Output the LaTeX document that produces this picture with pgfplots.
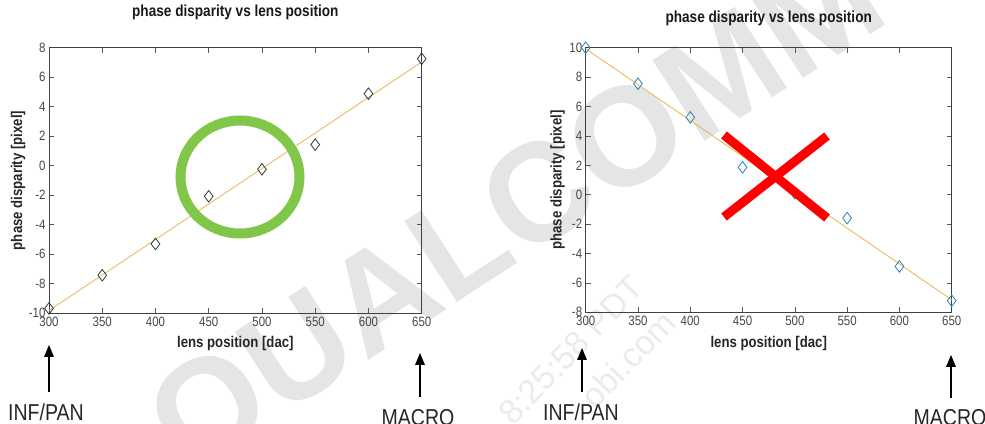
\documentclass[border=0pt]{standalone}
\usepackage{fontspec}
\setmainfont{Liberation Sans}[FakeStretch=0.85]
\newfontfamily\wmfont{Liberation Sans}
\usepackage{pgfplots}
\pgfplotsset{compat=1.18}
\definecolor{fitline}{RGB}{232,182,70}
\definecolor{mkdark}{RGB}{45,60,62}
\definecolor{mkblue}{RGB}{40,130,195}
\definecolor{ringgreen}{RGB}{128,198,72}
\pgfplotsset{
  mstyle/.style={
    scale only axis,
    xmin=300, xmax=650,
    xtick={300,350,...,650},
    tick align=inside,
    major tick length=5pt,
    axis line style={black!75, line width=0.8pt},
    every tick/.style={black!65, line width=0.6pt},
    /pgf/number format/assume math mode=true,
    tick label style={font=\fontsize{13.5}{14}\selectfont, text=black!72},
    label style={font=\bfseries\fontsize{15.5}{16}\selectfont, text=black!85},
    title style={font=\bfseries\fontsize{16}{17}\selectfont, text=black!90, anchor=center},
    clip=false,
  }
}
\begin{document}
\begin{tikzpicture}[x=1pt,y=1pt]
\useasboundingbox (0,0) rectangle (985,423);
% watermark (behind)
\node[rotate=33, text=black!10, font=\wmfont\bfseries\fontsize{140}{140}\selectfont, inner sep=0] at (522,204) {QUALCOMM};
\node[rotate=46, text=black!8, font=\wmfont\fontsize{34}{34}\selectfont, inner sep=0] at (571,73) {8:25:58 PDT};
\node[rotate=46, text=black!8, font=\wmfont\fontsize{34}{34}\selectfont, inner sep=0] at (628,64) {obi.com};

% left axis
\begin{axis}[mstyle,
  at={(49pt,109.7pt)}, anchor=south west,
  width=372.7pt, height=265.6pt,
  ymin=-10, ymax=8, ytick={-10,-8,...,8},
  title={phase disparity vs lens position},
  title style={at={(axis description cs:0.5,1)}, yshift=29pt},
  xlabel={lens position [dac]},
  ylabel={phase disparity [pixel]},
  xlabel style={at={(axis description cs:0.5,0)}, anchor=center, yshift=-30pt},
  ylabel style={at={(axis description cs:0,0.5)}, anchor=center, yshift=31pt},
]
\addplot[color=fitline, line width=0.8pt] coordinates {(300,-9.81) (650,7.03)};
\addplot[only marks, mark=diamond, mark size=5.8pt, color=mkdark, mark options={line width=0.8pt}] coordinates {
(300,-9.67) (350,-7.42) (400,-5.30) (450,-2.07) (500,-0.24) (550,1.43) (600,4.88) (650,7.25)};
\end{axis}

% right axis
\begin{axis}[mstyle,
  at={(585.7pt,110.7pt)}, anchor=south west,
  width=366pt, height=264.6pt,
  ymin=-8, ymax=10, ytick={-8,-6,...,10},
  title={phase disparity vs lens position},
  title style={at={(axis description cs:0.5,1)}, yshift=23pt},
  xlabel={lens position [dac]},
  ylabel={phase disparity [pixel]},
  xlabel style={at={(axis description cs:0.5,0)}, anchor=center, yshift=-31pt},
  ylabel style={at={(axis description cs:0,0.5)}, anchor=center, yshift=28pt},
]
\addplot[color=fitline, line width=0.8pt] coordinates {(300,9.93) (650,-7.15)};
\addplot[only marks, mark=diamond, mark size=5.8pt, color=mkblue, mark options={line width=0.8pt}] coordinates {
(300,10.0) (350,7.55) (400,5.26) (450,1.86) (500,0.10) (550,-1.59) (600,-4.88) (650,-7.21)};
\end{axis}

% annotations
\draw[ringgreen, line width=10pt] (240,246) ellipse [x radius=59.5, y radius=56.5];
\draw[red, line width=9pt] (724,288) -- (827,205);
\draw[red, line width=9pt] (724,206) -- (827,287);

\foreach \xa/\yt/\yb in {49/78/31, 420/70/26, 582/75/31, 951/68/25}{
  \draw[black, line width=2.6pt] (\xa,\yb) -- (\xa,\yt-10);
  \fill[black] (\xa-5,\yt-12) -- (\xa,\yt) -- (\xa+5,\yt-12) -- cycle;
}
\node[font=\fontsize{23}{23}\selectfont, text=black!85, inner sep=0, anchor=base] at (46,3) {INF/PAN};
\node[font=\fontsize{23}{23}\selectfont, text=black!85, inner sep=0, anchor=base] at (418,-2) {MACRO};
\node[font=\fontsize{23}{23}\selectfont, text=black!85, inner sep=0, anchor=base] at (581,3) {INF/PAN};
\node[font=\fontsize{23}{23}\selectfont, text=black!85, inner sep=0, anchor=base] at (950,-2) {MACRO};
\end{tikzpicture}
\end{document}
